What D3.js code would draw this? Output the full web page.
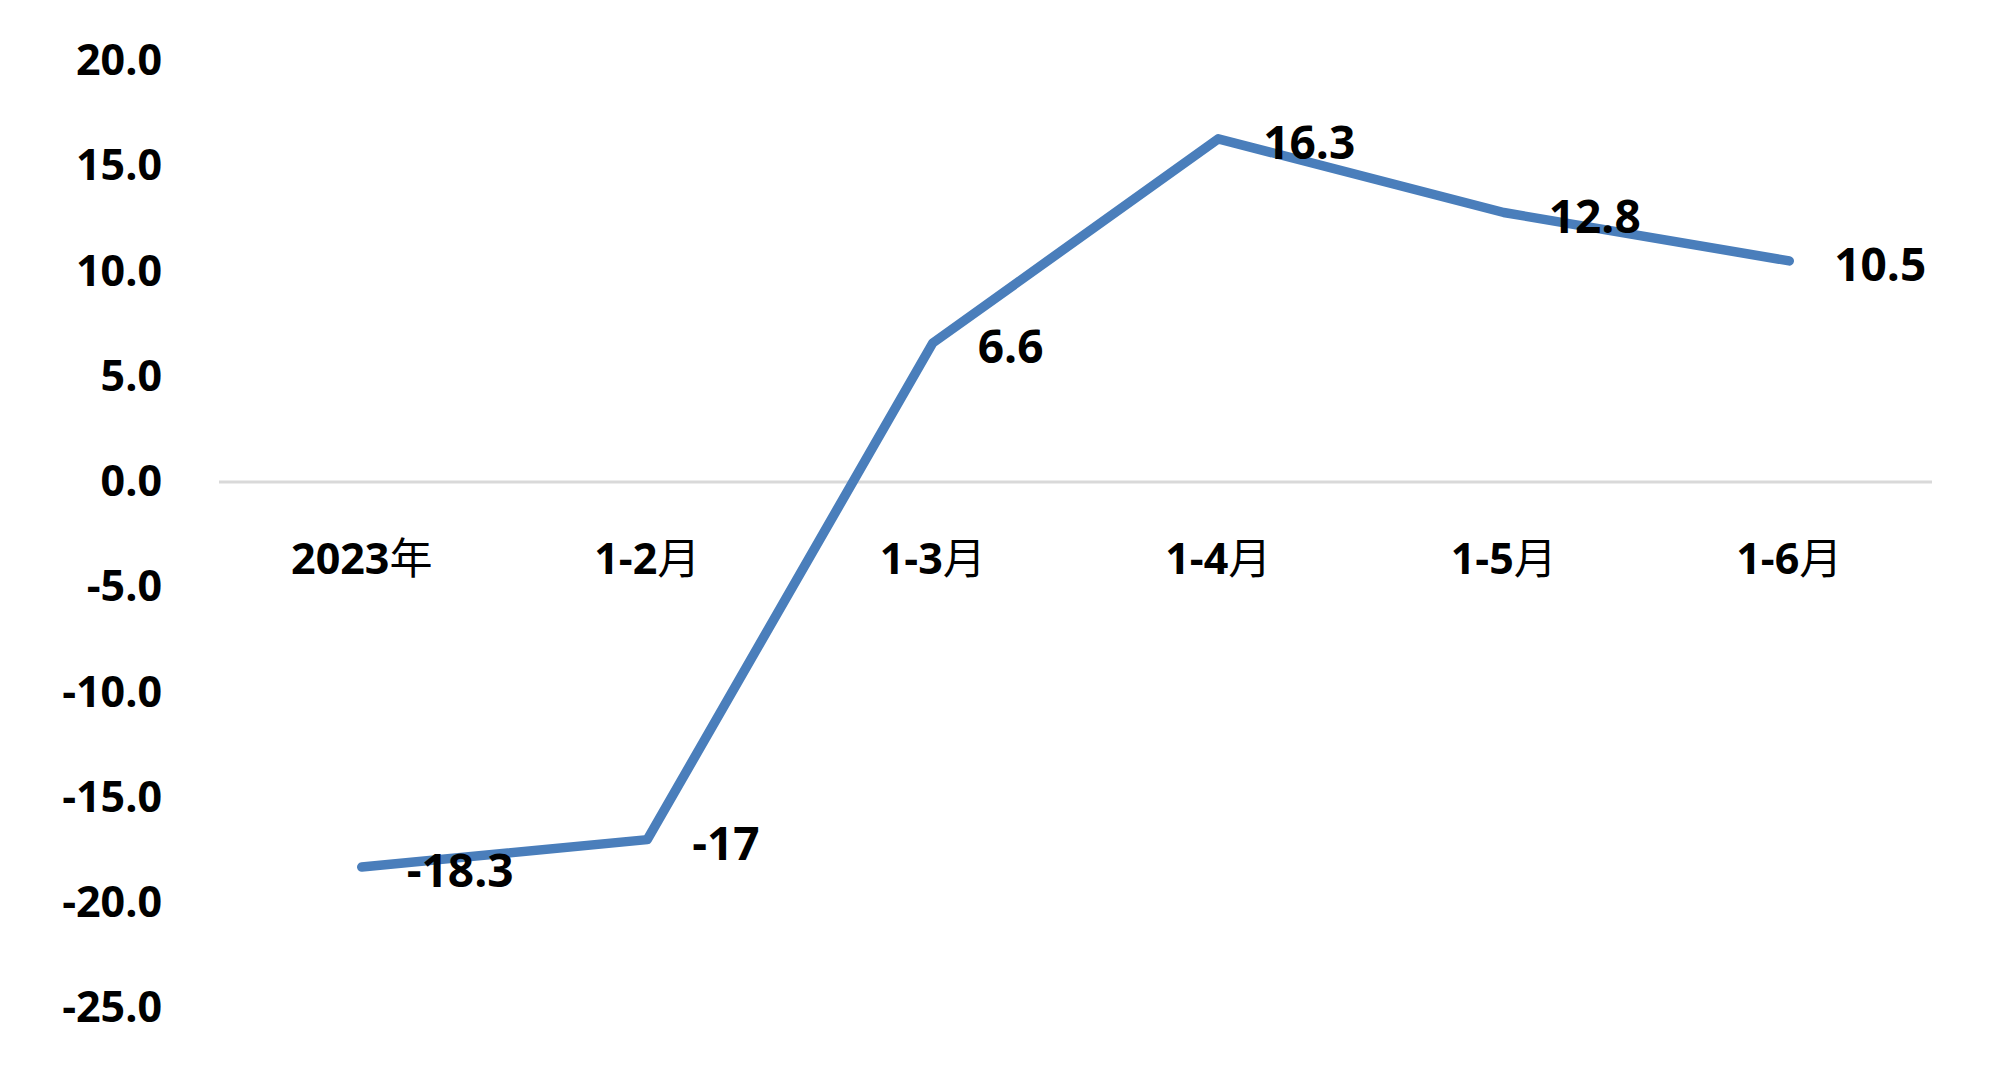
<!DOCTYPE html>
<html>
<head>
<meta charset="utf-8">
<script src="https://cdn.jsdelivr.net/npm/d3@7"></script>
<style>
  body { margin: 0; background: #fff; }
  text { font-family: 'Open Sans', 'Noto Sans CJK SC', sans-serif; font-weight: 700; fill: #000; }
  .cjk { font-family: 'Noto Sans CJK SC', sans-serif; font-weight: 400; }
</style>
</head>
<body>
<svg id="chart"></svg>
<script>
// data
var categories = ['2023年', '1-2月', '1-3月', '1-4月', '1-5月', '1-6月'];
var values = [-18.3, -17, 6.6, 16.3, 12.8, 10.5];
var labels = ['-18.3', '-17', '6.6', '16.3', '12.8', '10.5'];
var yTicks = [20, 15, 10, 5, 0, -5, -10, -15, -20, -25];

var W = 2000, H = 1078;
var margin = { top: 61, left: 219, bottom: 70, right: 68 };
var width = W - margin.left - margin.right,
    height = H - margin.top - margin.bottom;

var svg = d3.select('#chart')
    .attr('width', W)
    .attr('height', H)
    .append('g')
    .attr('transform', 'translate(' + margin.left + ',' + margin.top + ')');

var x = d3.scaleBand()
    .domain(categories)
    .range([0, width]);

var y = d3.scaleLinear()
    .domain([-25, 20])
    .range([height, 0]);

var data = categories.map((c, i) => ({ name: c, value: values[i], label: labels[i] }));
var cx = d => x(d.name) + x.bandwidth() / 2;

// zero line
svg.append('line')
    .attr('x1', 0)
    .attr('x2', width)
    .attr('y1', y(0))
    .attr('y2', y(0))
    .attr('stroke', '#d9d9d9')
    .attr('stroke-width', 3);

// y axis
var yAxis = d3.axisLeft(y)
    .tickValues(yTicks)
    .tickSize(0)
    .tickPadding(57);

var gy = svg.append('g').call(yAxis);
gy.select('.domain').remove();
gy.selectAll('text')
    .style('font-size', '43px')
    .text(d => d3.format('.1f')(d).replace('−', '-'));

// x axis labels
var xAxis = d3.axisBottom(x)
    .tickSize(0)
    .tickPadding(62);

var gx = svg.append('g')
    .attr('transform', 'translate(0,' + y(0) + ')')
    .call(xAxis);
gx.select('.domain').remove();
gx.selectAll('text')
    .style('font-size', '43px')
    .each(function (d) {
        var t = d3.select(this);
        t.text(null);
        t.append('tspan').text(d.slice(0, -1));
        t.append('tspan').attr('class', 'cjk').text(d.slice(-1));
    });

// the line
var line = d3.line()
    .x(cx)
    .y(d => y(d.value));

svg.append('path')
    .datum(data)
    .attr('d', line)
    .attr('fill', 'none')
    .attr('stroke', '#4a7ebb')
    .attr('stroke-width', 9.5)
    .attr('stroke-linejoin', 'round')
    .attr('stroke-linecap', 'round');

// data labels, to the right of each point
svg.selectAll('.dlabel')
    .data(data)
    .enter()
    .append('text')
    .attr('class', 'dlabel')
    .attr('x', d => cx(d) + 45)
    .attr('y', d => y(d.value) + 4)
    .attr('dy', '0.35em')
    .style('font-size', '46px')
    .text(d => d.label);
</script>
</body>
</html>
